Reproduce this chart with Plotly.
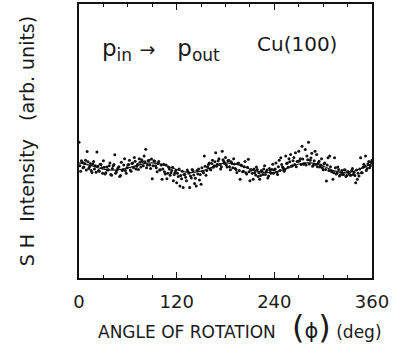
import plotly.graph_objects as go

# Fitted curve (angle in deg, intensity in arb. units)
curve_angle = [0, 15, 30, 45, 60, 75, 90, 105, 120, 135, 150, 165, 180, 195, 210,
               225, 240, 255, 270, 285, 300, 315, 330, 345, 360]
curve_int = [4.20, 4.10, 3.97, 3.94, 4.02, 4.14, 4.20, 4.12, 3.96, 3.85, 3.90, 4.06, 4.20,
             4.14, 3.98, 3.86, 3.86, 4.00, 4.16, 4.20, 4.08, 3.90, 3.84, 3.98, 4.18]

# Measured points at even angles 0..360
even_angle = list(range(0, 361, 2))
even_int = [
    4.95, 3.90, 4.22, 4.05, 4.30, 4.62, 4.00, 4.18, 3.85, 4.25, 4.10, 4.60, 3.92, 4.15, 4.02, 4.28,
    3.80, 4.05, 3.95, 4.20, 3.75, 4.10, 4.50, 3.88, 4.02, 3.70, 4.22, 3.95, 4.35, 3.82, 4.12,
    4.30, 3.90, 4.20, 4.40, 3.98, 4.15, 4.35, 4.05, 4.25, 4.45, 4.70, 4.12, 4.30, 4.00, 3.62,
    4.28, 4.10, 3.88, 4.25, 3.95, 3.60, 4.15, 3.80, 3.62, 4.05, 3.75, 3.92, 3.55, 3.85, 3.48,
    3.70, 3.36, 3.62, 3.30, 3.78, 3.55, 3.88, 3.30, 3.65, 3.92, 3.45, 3.36, 3.80, 3.58, 3.42,
    3.90, 4.45, 3.75, 4.05, 4.20, 3.95, 4.30, 4.10, 4.57, 4.15, 4.35, 3.98, 4.63, 4.25, 4.40,
    4.05, 4.30, 3.95, 4.18, 4.35, 4.00, 3.85, 4.20, 3.60, 4.10, 3.90, 4.25, 3.80, 4.33, 3.55,
    3.95, 3.60, 3.85, 4.05, 3.70, 3.60, 3.92, 3.78, 4.10, 3.88, 3.65, 4.00, 3.82, 4.15, 3.95,
    4.20, 3.78, 4.30, 4.39, 4.05, 3.90, 4.45, 4.20, 4.35, 4.51, 4.10, 4.40, 4.57, 4.25, 4.63,
    4.35, 4.81, 4.15, 4.69, 4.45, 4.95, 4.30, 4.55, 4.12, 4.63, 4.51, 4.20, 4.05, 4.35, 3.95,
    4.20, 3.54, 4.39, 4.45, 3.90, 3.60, 4.39, 3.80, 4.05, 3.72, 3.85, 3.78, 3.95, 3.70, 3.88,
    3.80, 3.75, 4.00, 3.85, 3.48, 3.60, 3.72, 4.39, 3.84, 4.15, 4.45, 4.00, 4.25, 4.10, 4.30,
]

# Measured points at odd angles 1..359
odd_angle = list(range(1, 360, 2))
odd_int = [
    4.10, 4.28, 4.02, 4.18, 3.94, 4.24, 4.06, 3.92, 4.16, 3.98, 3.86, 4.08, 3.90, 4.14, 3.82,
    4.04, 3.84, 3.94, 4.10, 3.78, 4.00, 4.14, 3.82, 3.96, 4.06, 3.74, 3.92, 4.12, 3.92, 4.02,
    4.14, 3.94, 4.18, 4.02, 4.26, 4.08, 3.96, 4.22, 4.32, 4.10, 4.24, 4.02, 4.28, 4.12, 4.34,
    4.10, 4.26, 4.02, 4.18, 3.94, 4.12, 3.98, 3.88, 4.12, 3.82, 3.98, 3.84, 4.04, 3.78, 3.92,
    3.82, 3.98, 3.74, 3.90, 3.78, 3.68, 3.94, 3.82, 3.72, 3.96, 3.76, 3.64, 3.92, 3.98, 3.78,
    4.02, 3.84, 4.08, 3.92, 4.14, 3.98, 4.18, 4.04, 4.24, 4.08, 4.28, 4.14, 4.06, 4.32, 4.18,
    4.12, 4.28, 4.06, 4.24, 4.02, 4.16, 3.96, 4.18, 3.92, 4.12, 3.88, 4.06, 3.84, 4.04, 3.88,
    3.94, 3.82, 3.98, 3.76, 3.96, 3.84, 3.74, 3.88, 3.98, 3.78, 3.94, 3.72, 3.92, 3.96, 3.82,
    3.98, 3.86, 4.06, 3.92, 4.14, 4.02, 3.96, 4.18, 4.04, 4.24, 4.08, 4.28, 4.14, 4.06, 4.26,
    4.28, 4.14, 4.34, 4.18, 4.12, 4.32, 4.16, 4.38, 4.08, 4.28, 4.14, 4.06, 4.26, 4.12, 4.02,
    4.16, 3.96, 4.12, 3.92, 4.06, 3.88, 3.84, 4.02, 3.82, 3.96, 3.76, 3.92, 3.78, 3.94, 3.74,
    3.88, 3.76, 3.92, 3.78, 3.74, 3.94, 3.82, 3.98, 3.84, 4.04, 4.08, 3.92, 4.16, 4.02, 4.22,
]

x_ticks = [0, 120, 240, 360]

FONT = "DejaVu Sans"
INK = "#111111"
TXT = "#1a1a1a"

fig = go.Figure()
fig.add_trace(go.Scatter(x=even_angle + odd_angle, y=even_int + odd_int, mode="markers",
                         marker=dict(color=INK, size=3), showlegend=False, cliponaxis=True))
fig.add_trace(go.Scatter(x=curve_angle, y=curve_int, mode="lines",
                         line=dict(color=INK, width=1.2, shape="spline", smoothing=1.0),
                         showlegend=False))

fig.update_layout(
    width=404, height=352,
    margin=dict(l=79, r=32, t=2, b=74),
    paper_bgcolor="white", plot_bgcolor="white",
    font=dict(family=FONT, color=TXT),
    xaxis=dict(range=[0, 360], tickvals=x_ticks, ticktext=[str(v) for v in x_ticks],
               ticks="inside", ticklen=6, tickwidth=1, tickcolor=INK,
               minor=dict(dtick=30, ticks="inside", ticklen=3, tickcolor=INK),
               showline=True, linecolor=INK, linewidth=1.6, mirror="ticks",
               showgrid=False, zeroline=False,
               tickfont=dict(size=18, family=FONT, color=TXT), ticklabelstandoff=7),
    yaxis=dict(range=[0, 10], showticklabels=False, ticks="",
               showline=True, linecolor=INK, linewidth=1.6, mirror=True,
               showgrid=False, zeroline=False),
)

fig.add_annotation(xref="paper", yref="paper", x=(96 - 79) / 293, y=-(327 - 277.5) / 275.5,
                   xanchor="left", yanchor="middle", showarrow=False,
                   text="ANGLE OF ROTATION&nbsp;&nbsp;&nbsp;<span style='font-size:32px'>(</span>"
                        "<span style='font-size:21px'>&#981;</span>"
                        "<span style='font-size:32px'>)</span>&nbsp;(deg)",
                   font=dict(size=17, family=FONT, color=TXT))
fig.add_annotation(xref="paper", yref="paper", x=(27 - 79) / 293, y=(277.5 - 140) / 275.5,
                   xanchor="center", yanchor="middle", showarrow=False, textangle=-90,
                   text="S H&nbsp;&nbsp;Intensity&nbsp;&nbsp;&nbsp;(arb. units)",
                   font=dict(size=19, family=FONT, color=TXT))
fig.add_annotation(xref="paper", yref="paper", x=(100 - 79) / 293, y=(277.5 - 48) / 275.5,
                   xanchor="left", yanchor="middle", showarrow=False,
                   text="p<sub><span style='font-size:17px'>in</span></sub>&nbsp;"
                        "<span style='font-size:19px'>&#8594;</span>&nbsp;&nbsp;&nbsp;"
                        "p<sub><span style='font-size:17px'>out</span></sub>",
                   font=dict(size=23, family=FONT, color=TXT))
fig.add_annotation(xref="paper", yref="paper", x=(297 - 79) / 293, y=(277.5 - 42) / 275.5,
                   xanchor="center", yanchor="middle", showarrow=False,
                   text="Cu(100)", font=dict(size=20, family=FONT, color=TXT))

fig.write_html("out.html")
